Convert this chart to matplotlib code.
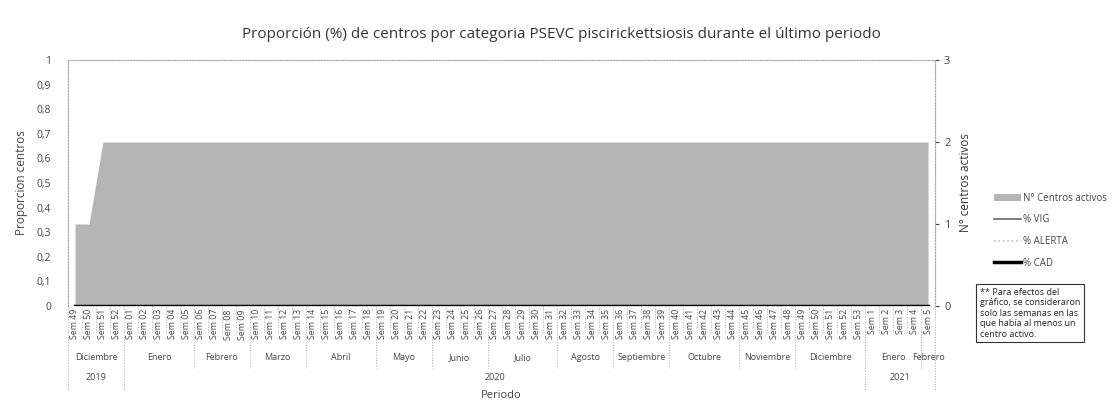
import matplotlib
matplotlib.use("Agg")
import matplotlib.pyplot as plt
from matplotlib.transforms import blended_transform_factory
import numpy as np

plt.rcParams['font.family'] = ['Open Sans', 'DejaVu Sans']

# ---- data ----
weeks = (["Sem 49", "Sem 50", "Sem 51", "Sem 52"]
         + ["Sem %02d" % i for i in range(1, 54)]
         + ["Sem %d" % i for i in range(1, 6)])
centros_activos = [1, 1] + [2] * 60
pct_vig = [0] * 62
pct_alerta = [0] * 62
pct_cad = [0] * 62
months = ["Diciembre", "Enero", "Febrero", "Marzo", "Abril", "Mayo", "Junio",
          "Julio", "Agosto", "Septiembre", "Octubre", "Noviembre", "Diciembre",
          "Enero", "Febrero"]
month_counts = [4, 5, 4, 4, 5, 4, 4, 5, 4, 4, 5, 4, 5, 4, 1]
years = ["2019", "2020", "2021"]
year_counts = [4, 53, 5]

W, H = 1117, 413
fig = plt.figure(figsize=(W / 100, H / 100), dpi=100)
L, R, T, B = 68, 935, 60, 306
ax = fig.add_axes([L / W, 1 - B / H, (R - L) / W, (B - T) / H])
ax2 = ax.twinx()
ax.set_zorder(ax2.get_zorder() + 1)
ax.patch.set_visible(False)

x = np.arange(len(weeks))
txtc = '#444444'

area = ax2.fill_between(x, centros_activos, 0, color='#b5b5b5', lw=0,
                        label='N° Centros activos')
ax2.set_ylim(0, 3)
ax2.set_yticks([0, 1, 2, 3])
ax2.tick_params(axis='y', labelsize=8, colors=txtc, length=3)
ax2.set_ylabel('N° centros activos', fontsize=8.5, color='#333333', labelpad=6)

l1, = ax.plot(x, pct_vig, color='#666666', lw=1.2, label='% VIG')
l2, = ax.plot(x, pct_alerta, color='#bbbbbb', lw=1.2, ls=':', label='% ALERTA')
l3, = ax.plot(x, pct_cad, color='black', lw=2.5, label='% CAD')

ax.set_xlim(-0.5, len(weeks) - 0.5)
ax.set_ylim(0, 1)
ax.set_yticks(np.arange(0, 1.01, 0.1))
ax.set_yticklabels(['0'] + ['0,%d' % i for i in range(1, 10)] + ['1'])
ax.tick_params(axis='y', labelsize=7.5, colors=txtc, length=0, pad=12)
ax.set_ylabel('Proporcion centros', fontsize=8.5, color='#444444', labelpad=6)
ax.set_xticks([])
for a in (ax, ax2):
    for s in a.spines.values():
        s.set_color('#aaaaaa')
        s.set_linestyle(':')
        s.set_linewidth(0.8)
ax2.spines['bottom'].set_visible(False)
ax.spines['bottom'].set_visible(False)

tr = blended_transform_factory(ax.transData, ax.transAxes)
ph = (B - T)
def ya(py):
    return -(py - B) / ph

for i, w in enumerate(weeks):
    ax.text(i, ya(309), w, rotation=90, ha='center', va='top', fontsize=6.3,
            color=txtc, transform=tr)
sep_kw = dict(color='#aaaaaa', lw=0.7, ls=':', transform=tr, clip_on=False)
for i in range(len(weeks) + 1):
    ax.plot([i - 0.5, i - 0.5], [ya(306), ya(334)], **sep_kw)
pos = 0
for m, c in zip(months, month_counts):
    ax.text(pos + c / 2 - 0.5, ya(358), m, ha='center', va='center',
            fontsize=6.5, color=txtc, transform=tr)
    ax.plot([pos - 0.5, pos - 0.5], [ya(334), ya(368)], **sep_kw)
    pos += c
ax.plot([pos - 0.5, pos - 0.5], [ya(334), ya(368)], **sep_kw)
pos = 0
for yv, c in zip(years, year_counts):
    ax.text(pos + c / 2 - 0.5, ya(378), yv, ha='center', va='center',
            fontsize=6.5, color=txtc, transform=tr)
    ax.plot([pos - 0.5, pos - 0.5], [ya(368), ya(390)], **sep_kw)
    pos += c
ax.plot([pos - 0.5, pos - 0.5], [ya(368), ya(390)], **sep_kw)

fig.text(0.5 * (L + R) / W, 1 - 396 / H, 'Periodo', ha='center', va='center',
         fontsize=8, color=txtc)
fig.text(561 / W, 1 - 35 / H,
         'Proporción (%) de centros por categoria PSEVC piscirickettsiosis durante el último periodo',
         ha='center', va='center', fontsize=11, color='#333333')

leg = fig.legend(handles=[area, l1, l2, l3],
                 labels=['N° Centros activos', '% VIG', '% ALERTA', '% CAD'],
                 loc='upper left', bbox_to_anchor=(985 / W, 1 - 184 / H),
                 frameon=False, fontsize=7, labelcolor=txtc, handlelength=2.8,
                 handletextpad=0.2, labelspacing=1.1)

fig.text(980 / W, 1 - 288 / H,
         '** Para efectos del\ngráfico, se consideraron\nsolo las semanas en las\nque había al menos un\ncentro activo.',
         ha='left', va='top', fontsize=6.5, color='#222222', linespacing=1.2,
         bbox=dict(boxstyle='square,pad=0.4', fc='white', ec='#333333', lw=0.8))

fig.savefig('out.png', dpi=100)
